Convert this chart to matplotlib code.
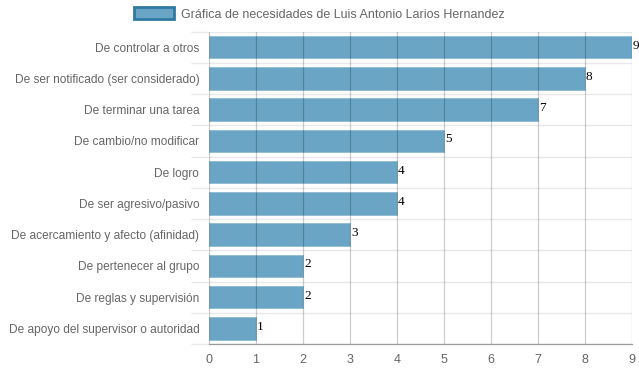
import numpy as np
import matplotlib
matplotlib.use("Agg")
import matplotlib.pyplot as plt
from matplotlib.patches import Patch

# datos de la grafica
categorias = ["De controlar a otros", "De ser notificado (ser considerado)",
              "De terminar una tarea", "De cambio/no modificar", "De logro",
              "De ser agresivo/pasivo", "De acercamiento y afecto (afinidad)",
              "De pertenecer al grupo", "De reglas y supervisión",
              "De apoyo del supervisor o autoridad"]
valores = [9, 8, 7, 5, 4, 4, 3, 2, 2, 1]
ticks_x = [0, 1, 2, 3, 4, 5, 6, 7, 8, 9]
titulo = "Gráfica de necesidades de Luis Antonio Larios Hernandez"

plt.rcParams["font.family"] = ["Liberation Sans", "DejaVu Sans"]

fig = plt.figure(figsize=(6.39, 3.72), dpi=100)
ax = fig.add_axes([209/639, 1-344/372, (632-209)/639, (344-31.5)/372])

y = np.arange(len(categorias))
ax.barh(y, valores, height=0.72, color="#6aa5c5", edgecolor="#8dbbd4",
        linewidth=0.6, zorder=1)

for yi, v in zip(y, valores):
    ax.text(v + 0.02, yi - 0.05, str(v), fontsize=9.5, family="Liberation Serif",
            color="black", va="center", ha="left", zorder=3)

ax.set_xlim(0, 9)
ax.set_ylim(len(categorias) - 0.5, -0.5)
ax.set_xticks(ticks_x)
ax.set_yticks(y)
ax.set_yticklabels(categorias)

# lineas de cuadricula
for t in ticks_x:
    ax.axvline(t, color="black", alpha=0.2, lw=0.9, zorder=2)
ax.set_yticks(np.arange(-0.5, len(categorias), 1), minor=True)
ax.grid(axis="y", which="minor", color="#e9e9e9", lw=1, zorder=0)
ax.tick_params(axis="y", which="minor", length=13, color="#e9e9e9", width=1)
ax.tick_params(axis="y", which="major", length=0, pad=7, labelsize=8.6, labelcolor="#666666")
ax.tick_params(axis="x", length=0, pad=7, labelsize=9, labelcolor="#666666")

for s in ["top", "right", "left"]:
    ax.spines[s].set_visible(False)
ax.spines["bottom"].set_color("#999999")
ax.spines["bottom"].set_linewidth(0.9)

leg = fig.legend(handles=[Patch(facecolor="#6aa5c5", edgecolor="#2f7aa2", linewidth=2, label=titulo)],
                 loc="center", bbox_to_anchor=(0.5, 1 - 14/372), frameon=False,
                 fontsize=9, handlelength=3.2, handleheight=1.1, handletextpad=0.6)
for t in leg.get_texts():
    t.set_color("#666666")

fig.savefig("out.png", dpi=100)
